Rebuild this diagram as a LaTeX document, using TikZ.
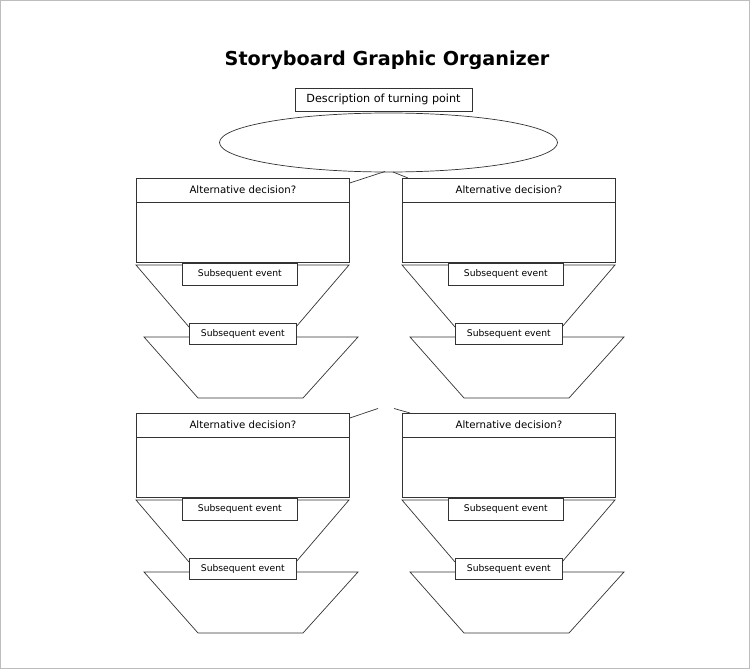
\documentclass[tikz,border=0pt]{standalone}
\usepackage{fontspec}
\setmainfont{DejaVu Sans}
\usetikzlibrary{positioning,shapes.geometric}
\definecolor{FrameGray}{HTML}{BDBDBD}
\definecolor{InkGray}{HTML}{333333}

\begin{document}
\begin{tikzpicture}[x=1pt,y=-1pt,line width=0.7pt,draw=InkGray,
      edge/.style={draw=InkGray,line width=0.7pt},
      tag/.style={draw=InkGray,fill=white,inner sep=0pt,font=\fontsize{9.2}{11}\selectfont},
      card/.style={draw=InkGray,fill=white,minimum width=213pt,minimum height=83.5pt,inner sep=0pt},
      head/.style={tag,minimum width=213pt,minimum height=23.5pt,font=\fontsize{10.2}{12}\selectfont},
      event/.style={tag,minimum height=21.5pt}]
      \useasboundingbox (0,0) rectangle (750,669);
      \draw[FrameGray,line width=1pt] (0.5,0.5) rectangle (749.5,668.5);
      \node[font=\bfseries\fontsize{19.2}{23}\selectfont] (title) at (387,60) {Storyboard Graphic Organizer};
      \node[ellipse,edge,minimum width=338pt,minimum height=59pt,inner sep=0pt] (turn) at (388.5,142.5) {};
      \node[tag,minimum width=177pt,minimum height=23pt,font=\fontsize{11.2}{13}\selectfont] (point) at (383.5,99.5) {Description of turning point};
      \foreach \dx/\dy/\n in {0/0/a,266/0/b,0/235/c,266/235/d}{
        \begin{scope}[shift={(\dx,\dy)}]
          \draw[edge] (136,265) -- (349,265) -- (296,327) -- (189,327) -- cycle;
          \draw[edge] (144,337) -- (358,337) -- (303,398) -- (198,398) -- cycle;
          \node[card,anchor=north west] (dec-\n) at (136,178) {};
          \node[head,anchor=north] (ask-\n) at (dec-\n.north) {Alternative decision?};
          \node[event,minimum width=115pt,anchor=north west] (first-\n) at (182,263) {Subsequent event};
          \node[event,minimum width=107pt,anchor=north west] (second-\n) at (189,322.5) {Subsequent event};
        \end{scope}
      }
      \coordinate (tipL) at (385,171.5);
      \coordinate (tipR) at (393,172);
      \coordinate (midL) at (378,408.5);
      \coordinate (midR) at (394,408.5);
      \draw[edge] ([yshift=-5pt]dec-a.north east) -- (tipL);
      \draw[edge] (tipR) -- ([xshift=6pt]dec-b.north west);
      \draw[edge] ([yshift=-5pt]dec-c.north east) -- (midL);
      \draw[edge] (midR) -- ([xshift=8pt]dec-d.north west);
    \end{tikzpicture}
\end{document}
